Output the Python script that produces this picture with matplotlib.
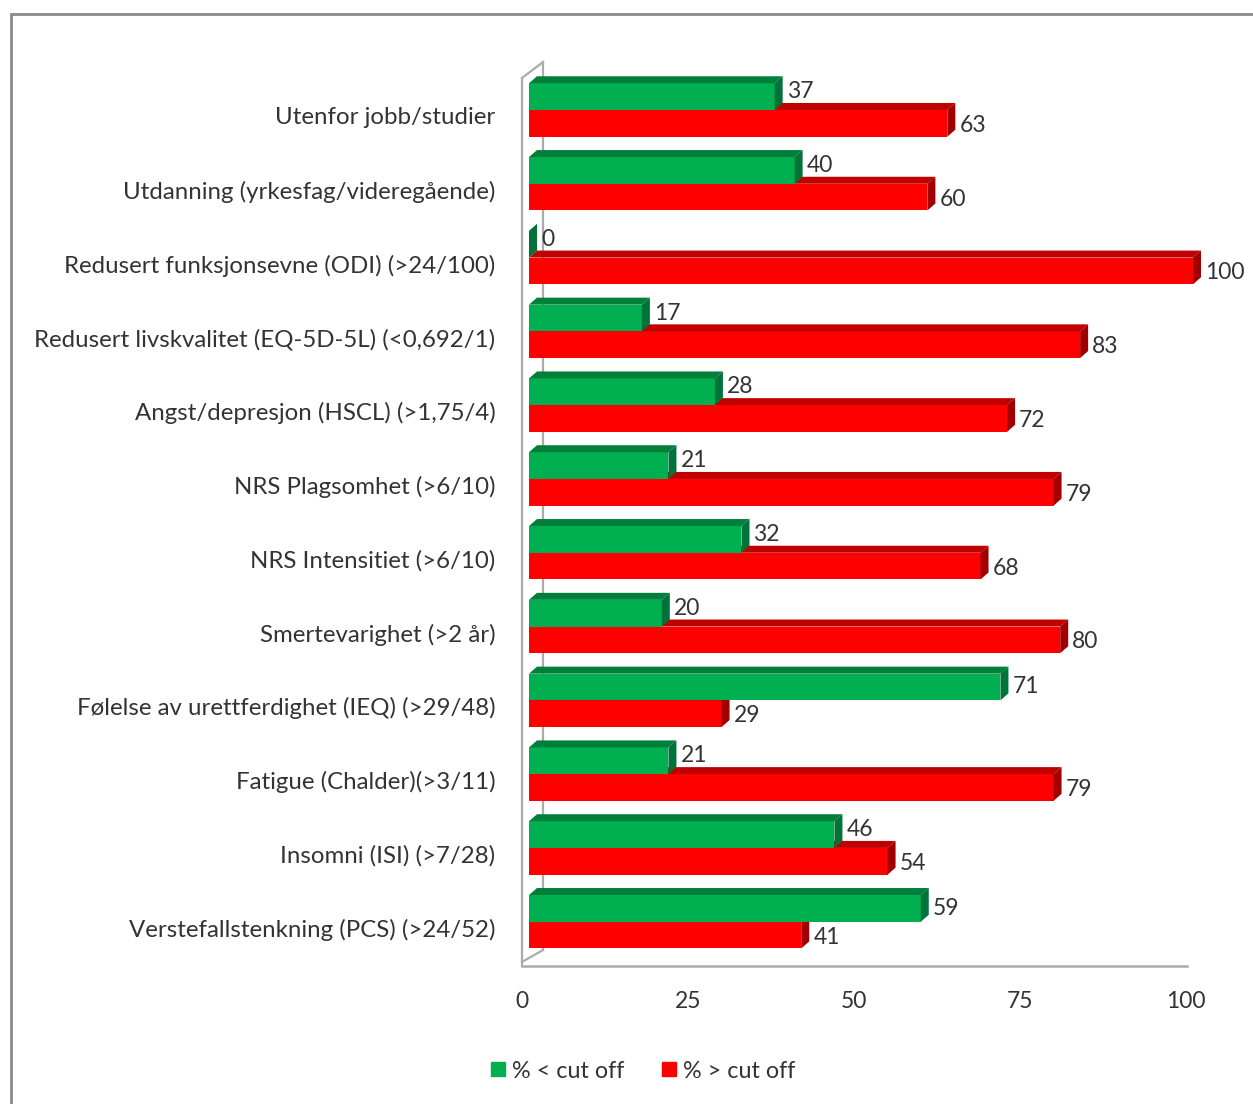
import numpy as np
import matplotlib
matplotlib.use('Agg')
import matplotlib.pyplot as plt
from matplotlib.patches import Polygon, Rectangle
from matplotlib.lines import Line2D

plt.rcParams['font.family'] = ['Lato', 'DejaVu Sans']

# data
categories = ['Utenfor jobb/studier',
              'Utdanning (yrkesfag/videregående)',
              'Redusert funksjonsevne (ODI) (>24/100)',
              'Redusert livskvalitet (EQ-5D-5L) (<0,692/1)',
              'Angst/depresjon (HSCL) (>1,75/4)',
              'NRS Plagsomhet (>6/10)',
              'NRS Intensitiet (>6/10)',
              'Smertevarighet (>2 år)',
              'Følelse av urettferdighet (IEQ) (>29/48)',
              'Fatigue (Chalder)(>3/11)',
              'Insomni (ISI) (>7/28)',
              'Verstefallstenkning (PCS) (>24/52)']
below_cut = [37, 40, 0, 17, 28, 21, 32, 20, 71, 21, 46, 59]
above_cut = [63, 60, 100, 83, 72, 79, 68, 80, 29, 79, 54, 41]
legend_labels = ['% < cut off', '% > cut off']
xticks = [0, 25, 50, 75, 100]

W, H = 1253, 1104
fig = plt.figure(figsize=(W / 100, H / 100), dpi=100)
# axes: floor front edge 522..1186 px, wall top 62 px, floor 966 px
ax = fig.add_axes([522 / W, 1 - 966 / H, 664 / W, 904 / H])
ax.set_xlim(0, 100)
ax.set_ylim(11.6, -0.65)
for s in ax.spines.values():
    s.set_visible(False)

ux = 100 / 664.0     # data units per pixel, x
uy = 12.25 / 904.0   # data units per pixel, y

txt = '#333333'
wall = '#ABABAB'

# walls / floor outline
wd_x, wd_y = 21 * ux, 16 * uy
y_top_front = -0.65 + wd_y
y_floor = 11.6
ax.plot([0, 0], [y_floor, y_top_front], color=wall, lw=1.6, clip_on=False)
ax.plot([0, wd_x], [y_top_front, -0.65], color=wall, lw=1.6, clip_on=False)
ax.plot([wd_x, wd_x], [-0.65, y_floor - wd_y], color=wall, lw=1.6, clip_on=False, zorder=0)
ax.plot([0, wd_x], [y_floor - 4 * uy, y_floor - wd_y], color=wall, lw=1.6, clip_on=False, zorder=0)
ax.plot([0, 100.2], [y_floor, y_floor], color=wall, lw=1.8, clip_on=False)

# 3d bars
x0 = 7 * ux
dx, dy = 8 * ux, 7 * uy
bh = 26.7 * uy
y = np.arange(len(categories))


def bar3d(yc, v, front, top, side):
    yt, yb = yc - bh / 2, yc + bh / 2
    ax.add_patch(Rectangle((x0, yt), v, bh, facecolor=front, edgecolor='none', clip_on=False))
    ax.add_patch(Polygon([(x0, yt), (x0 + v, yt), (x0 + v + dx, yt - dy), (x0 + dx, yt - dy)],
                         closed=True, facecolor=top, edgecolor='none', clip_on=False))
    ax.add_patch(Polygon([(x0 + v, yt), (x0 + v + dx, yt - dy), (x0 + v + dx, yb - dy), (x0 + v, yb)],
                         closed=True, facecolor=side, edgecolor='none', clip_on=False))


for i in range(len(categories)):
    g, r = below_cut[i], above_cut[i]
    yg = y[i] - bh / 2
    yr = y[i] + bh / 2
    bar3d(yr, r, '#FF0000', '#C00000', '#A20000')
    bar3d(yg, g, '#00B050', '#007F3A', '#00733A')
    gy = yg - 5 * uy if r > g else yg
    ax.text(x0 + g + 12 * ux, gy, str(g), ha='left', va='center', fontsize=16.5,
            color=txt, clip_on=False)
    ax.text(x0 + r + 12 * ux, yr + 2 * uy, str(r), ha='left', va='center', fontsize=16.5,
            color=txt, clip_on=False)

ax.set_xticks(xticks)
ax.set_xticklabels([str(t) for t in xticks], fontsize=16.5, color=txt)
ax.set_yticks(y + 6 * uy)
ax.set_yticklabels(categories, fontsize=17.3, color=txt)
ax.tick_params(axis='x', length=0, pad=18)
ax.tick_params(axis='y', length=0, pad=19)

# legend
handles = [Line2D([], [], ls='none', marker='s', markersize=9.5, color=c)
           for c in ['#00B050', '#FF0000']]
fig.legend(handles, legend_labels, loc='center', bbox_to_anchor=(643 / W, 1 - 1071 / H),
           ncol=2, frameon=False, fontsize=16.8, handlelength=0.6, handletextpad=0.3,
           columnspacing=1.6, labelcolor=txt)

# outer chart border
fig.patches.append(Rectangle((11 / W, -0.1), 1.0, 1.1 - 14 / H, transform=fig.transFigure,
                             fill=False, edgecolor='#8A8A8A', lw=2))

fig.savefig('out.png', dpi=100)
